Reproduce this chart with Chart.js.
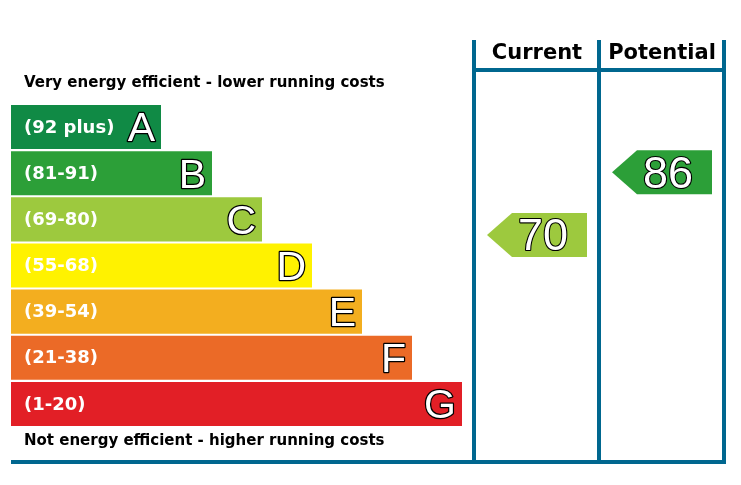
<!DOCTYPE html>
<html><head><meta charset="utf-8">
<script src="https://cdn.jsdelivr.net/npm/chart.js@4"></script>
<style>html,body{margin:0;padding:0;background:#fff}</style>
</head><body>
<canvas id="c" width="741" height="485"></canvas>
<script>
const bandLetters = ["A","B","C","D","E","F","G"];
const bandRanges = ["(92 plus)","(81-91)","(69-80)","(55-68)","(39-54)","(21-38)","(1-20)"];
const bandMin = [92,81,69,55,39,21,1];
const bandMax = [100,91,80,68,54,38,20];
const bandLength = [150,201,251,301,351,401,451];
const bandColors = ["#108a45","#2c9f38","#9dc93e","#fff200","#f3ae1f","#eb6a27","#e21f26"];
const currentRating = 70;
const potentialRating = 86;
const topText = "Very energy efficient - lower running costs";
const bottomText = "Not energy efficient - higher running costs";
const frameColor = "#00678f";
const F = '"DejaVu Sans", sans-serif';
const G = '"Liberation Sans", Arial, sans-serif';

function bandOf(v){ for(let i=0;i<7;i++) if(v>=bandMin[i]) return i; return 6; }

const epcPlugin = {
  id:'epc',
  afterDatasetsDraw(chart){
    const ctx = chart.ctx, x = chart.scales.x;
    const meta = chart.getDatasetMeta(0);
    ctx.save();
    ctx.textBaseline='middle';
    meta.data.forEach((bar,i)=>{
      ctx.font='bold 18px '+F;
      ctx.fillStyle='#fff'; ctx.textAlign='left';
      ctx.fillText(bandRanges[i], x.getPixelForValue(0)+13, bar.y+1);
      ctx.font='41px '+G;
      ctx.textAlign='right';
      ctx.lineWidth=2.5; ctx.strokeStyle='#000'; ctx.lineJoin='round';
      ctx.strokeText(bandLetters[i], bar.x-6, bar.y+3);
      ctx.fillText(bandLetters[i], bar.x-6, bar.y+3);
    });
    ctx.fillStyle='#000'; ctx.textAlign='left';
    ctx.font='bold 15px '+F;
    ctx.fillText(topText, 24, 83);
    ctx.fillText(bottomText, 24, 441);
    ctx.strokeStyle=frameColor; ctx.lineWidth=4;
    ctx.beginPath();
    [474,599,724].forEach(px=>{ctx.moveTo(px,40);ctx.lineTo(px,464);});
    ctx.moveTo(474,70);ctx.lineTo(726,70);
    ctx.moveTo(11,462);ctx.lineTo(726,462);
    ctx.stroke();
    ctx.fillStyle='#000'; ctx.textAlign='center';
    ctx.font='bold 21px '+F;
    ctx.fillText("Current",537,54);
    ctx.fillText("Potential",662,54);
    function arrow(v,x0){
      const b = bandOf(v), bar = meta.data[b];
      const top = bar.y - bar.height/2, h = bar.height;
      const cy = top + (bandMax[b]-v)/(bandMax[b]-bandMin[b]+1)*h + 1;
      const t = cy - 22, bt = cy + 22;
      ctx.fillStyle = bandColors[b];
      ctx.beginPath();
      ctx.moveTo(x0,cy); ctx.lineTo(x0+25,t); ctx.lineTo(x0+100,t); ctx.lineTo(x0+100,bt); ctx.lineTo(x0+25,bt); ctx.closePath();
      ctx.fill();
      ctx.font='45px '+G;
      ctx.fillStyle='#fff'; ctx.strokeStyle='#000'; ctx.lineWidth=2.2;
      ctx.textAlign='center';
      ctx.strokeText(String(v), x0+56, cy+3);
      ctx.fillText(String(v), x0+56, cy+3);
    }
    arrow(currentRating,487);
    arrow(potentialRating,612);
    ctx.restore();
  }
};

new Chart(document.getElementById('c'),{
  type:'bar',
  data:{labels:bandLetters,datasets:[{data:bandLength,backgroundColor:bandColors,barPercentage:0.955,categoryPercentage:1}]},
  options:{
    indexAxis:'y',responsive:false,animation:false,
    layout:{padding:{left:11,right:17,top:104,bottom:58}},
    plugins:{legend:{display:false},tooltip:{enabled:false}},
    scales:{x:{display:false,min:0,max:713},y:{display:false}}
  },
  plugins:[epcPlugin]
});
</script>
</body></html>
